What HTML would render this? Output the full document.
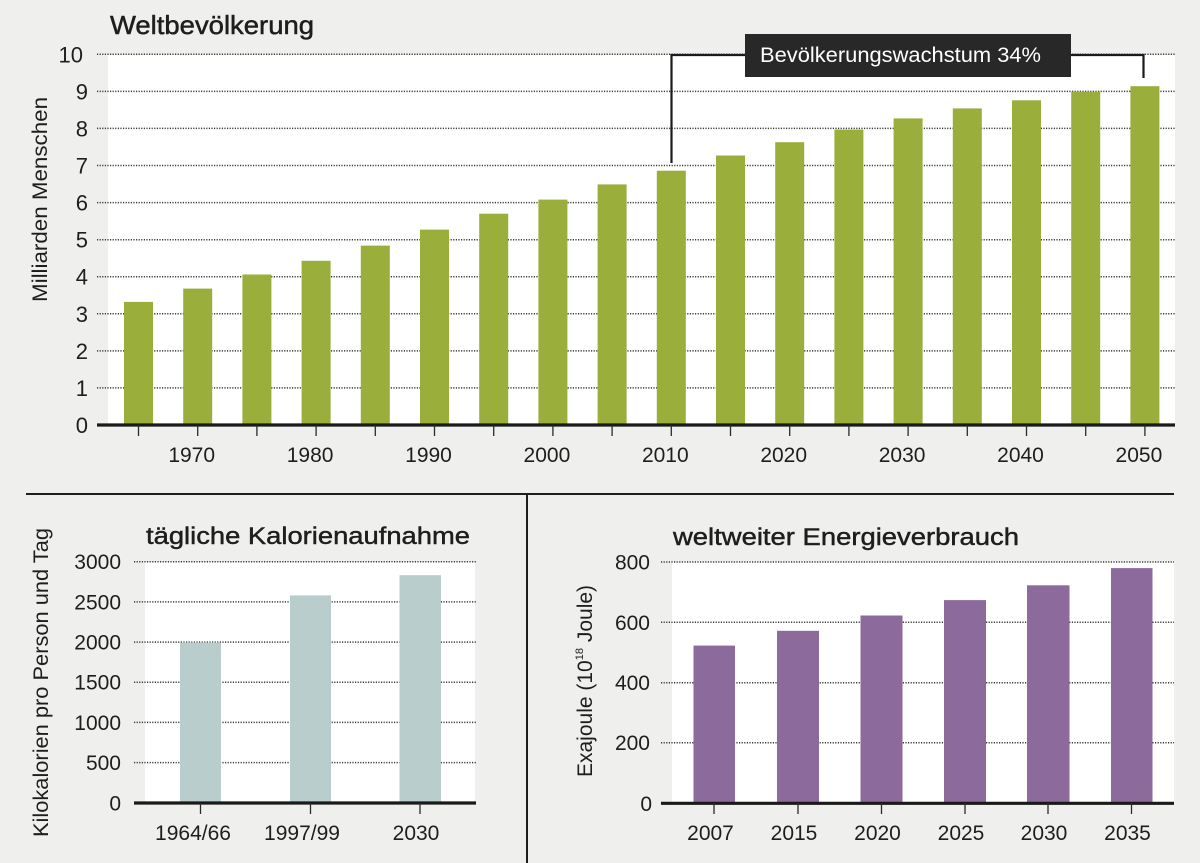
<!DOCTYPE html>
<html><head><meta charset="utf-8"><style>
html,body{margin:0;padding:0;background:#efefed;}
svg{display:block;}
text{font-family:"Liberation Sans",sans-serif;fill:#1e1e1e;}
</style></head><body>
<svg width="1200" height="863" viewBox="0 0 1200 863" xmlns="http://www.w3.org/2000/svg">
<rect x="0" y="0" width="1200" height="863" fill="#efefed"/>

<!-- ============ TOP CHART ============ -->
<rect x="108" y="55" width="1067" height="370" fill="#ffffff"/>
<g stroke="#3a3a3a" stroke-width="1.5" stroke-dasharray="1.2 1.4">
<line x1="97" y1="54.3" x2="1175" y2="54.3"/>
<line x1="97" y1="91.4" x2="1175" y2="91.4"/>
<line x1="97" y1="128.4" x2="1175" y2="128.4"/>
<line x1="97" y1="165.5" x2="1175" y2="165.5"/>
<line x1="97" y1="202.6" x2="1175" y2="202.6"/>
<line x1="97" y1="239.7" x2="1175" y2="239.7"/>
<line x1="97" y1="276.7" x2="1175" y2="276.7"/>
<line x1="97" y1="313.8" x2="1175" y2="313.8"/>
<line x1="97" y1="350.9" x2="1175" y2="350.9"/>
<line x1="97" y1="387.9" x2="1175" y2="387.9"/>
</g>
<g fill="#9aae3b">
<rect x="124" y="301.9" width="29" height="123.1"/>
<rect x="183.2" y="288.6" width="29" height="136.4"/>
<rect x="242.4" y="274.5" width="29" height="150.5"/>
<rect x="301.6" y="260.8" width="29" height="164.2"/>
<rect x="360.8" y="245.6" width="29" height="179.4"/>
<rect x="420" y="229.6" width="29" height="195.4"/>
<rect x="479.2" y="213.7" width="29" height="211.3"/>
<rect x="538.4" y="199.6" width="29" height="225.4"/>
<rect x="597.6" y="184.4" width="29" height="240.6"/>
<rect x="656.8" y="170.7" width="29" height="254.3"/>
<rect x="716" y="155.5" width="29" height="269.5"/>
<rect x="775.2" y="142.2" width="29" height="282.8"/>
<rect x="834.4" y="129.6" width="29" height="295.4"/>
<rect x="893.6" y="118.4" width="29" height="306.6"/>
<rect x="952.8" y="108.4" width="29" height="316.6"/>
<rect x="1012" y="100.3" width="29" height="324.7"/>
<rect x="1071.2" y="91.7" width="29" height="333.3"/>
<rect x="1130.4" y="86.2" width="29" height="338.8"/>
</g>
<line x1="97" y1="425" x2="1175" y2="425" stroke="#1a1a1a" stroke-width="3.2"/>
<g stroke="#2a2a2a" stroke-width="1.3">
<line x1="138.5" y1="425" x2="138.5" y2="436"/>
<line x1="197.7" y1="425" x2="197.7" y2="436"/>
<line x1="256.9" y1="425" x2="256.9" y2="436"/>
<line x1="316.1" y1="425" x2="316.1" y2="436"/>
<line x1="375.3" y1="425" x2="375.3" y2="436"/>
<line x1="434.5" y1="425" x2="434.5" y2="436"/>
<line x1="493.7" y1="425" x2="493.7" y2="436"/>
<line x1="552.9" y1="425" x2="552.9" y2="436"/>
<line x1="612.1" y1="425" x2="612.1" y2="436"/>
<line x1="671.3" y1="425" x2="671.3" y2="436"/>
<line x1="730.5" y1="425" x2="730.5" y2="436"/>
<line x1="789.7" y1="425" x2="789.7" y2="436"/>
<line x1="848.9" y1="425" x2="848.9" y2="436"/>
<line x1="908.1" y1="425" x2="908.1" y2="436"/>
<line x1="967.3" y1="425" x2="967.3" y2="436"/>
<line x1="1026.5" y1="425" x2="1026.5" y2="436"/>
<line x1="1085.7" y1="425" x2="1085.7" y2="436"/>
<line x1="1144.9" y1="425" x2="1144.9" y2="436"/>
</g>
<!-- y labels -->
<g font-size="22" text-anchor="end">
<text x="83" y="62.3">10</text>
<text x="88" y="99.4">9</text>
<text x="88" y="136.4">8</text>
<text x="88" y="173.5">7</text>
<text x="88" y="210.6">6</text>
<text x="88" y="247.7">5</text>
<text x="88" y="284.7">4</text>
<text x="88" y="321.8">3</text>
<text x="88" y="358.9">2</text>
<text x="88" y="395.9">1</text>
<text x="88" y="433">0</text>
</g>
<!-- x labels -->
<g font-size="21" text-anchor="middle">
<text x="191.7" y="462">1970</text>
<text x="310.1" y="462">1980</text>
<text x="428.5" y="462">1990</text>
<text x="546.9" y="462">2000</text>
<text x="665.3" y="462">2010</text>
<text x="783.7" y="462">2020</text>
<text x="902.1" y="462">2030</text>
<text x="1020.5" y="462">2040</text>
<text x="1138.9" y="462">2050</text>
</g>
<text x="110" y="34" font-size="26" stroke="#1e1e1e" stroke-width="0.5" textLength="204" lengthAdjust="spacingAndGlyphs">Weltbevölkerung</text>
<text transform="translate(47,302) rotate(-90)" font-size="21" textLength="205" lengthAdjust="spacingAndGlyphs">Milliarden Menschen</text>

<!-- annotation -->
<path d="M671.5,163 V55 H745 M1071,55 H1143.5 V78" fill="none" stroke="#1a1a1a" stroke-width="2.2"/>
<rect x="745" y="34" width="326" height="43" fill="#282828"/>
<text x="760" y="62" font-size="21" style="fill:#ffffff" textLength="281" lengthAdjust="spacingAndGlyphs">Bevölkerungswachstum 34%</text>

<!-- separators -->
<line x1="26" y1="494" x2="1174" y2="494" stroke="#1e1e1e" stroke-width="2"/>
<line x1="527" y1="494" x2="527" y2="863" stroke="#1e1e1e" stroke-width="2"/>

<!-- ============ CALORIE CHART ============ -->
<rect x="145" y="562" width="330" height="241" fill="#ffffff"/>
<g stroke="#3a3a3a" stroke-width="1.5" stroke-dasharray="1.2 1.4">
<line x1="134" y1="561.7" x2="476" y2="561.7"/>
<line x1="134" y1="601.9" x2="476" y2="601.9"/>
<line x1="134" y1="642.1" x2="476" y2="642.1"/>
<line x1="134" y1="682.2" x2="476" y2="682.2"/>
<line x1="134" y1="722.4" x2="476" y2="722.4"/>
<line x1="134" y1="762.6" x2="476" y2="762.6"/>
</g>
<g fill="#b9cdcc">
<rect x="180" y="642.7" width="41" height="160.3"/>
<rect x="290" y="595.4" width="41" height="207.6"/>
<rect x="399.5" y="575.2" width="41.5" height="227.8"/>
</g>
<line x1="134" y1="803" x2="476" y2="803" stroke="#1a1a1a" stroke-width="3.2"/>
<g stroke="#2a2a2a" stroke-width="1.3">
<line x1="200.5" y1="803" x2="200.5" y2="814"/>
<line x1="310.5" y1="803" x2="310.5" y2="814"/>
<line x1="420" y1="803" x2="420" y2="814"/>
</g>
<g font-size="21" text-anchor="end">
<text x="121" y="569.2">3000</text>
<text x="121" y="609.4">2500</text>
<text x="121" y="649.6">2000</text>
<text x="121" y="689.7">1500</text>
<text x="121" y="729.9">1000</text>
<text x="121" y="770.1">500</text>
<text x="121" y="810.3">0</text>
</g>
<g font-size="21" text-anchor="middle">
<text x="193" y="840">1964/66</text>
<text x="302" y="840">1997/99</text>
<text x="416" y="840">2030</text>
</g>
<text x="146" y="544" font-size="24" stroke="#1e1e1e" stroke-width="0.45" textLength="324" lengthAdjust="spacingAndGlyphs">tägliche Kalorienaufnahme</text>
<text transform="translate(48,837) rotate(-90)" font-size="21" textLength="309" lengthAdjust="spacingAndGlyphs">Kilokalorien pro Person und Tag</text>

<!-- ============ ENERGY CHART ============ -->
<rect x="672" y="562" width="502" height="241" fill="#ffffff"/>
<g stroke="#3a3a3a" stroke-width="1.5" stroke-dasharray="1.2 1.4">
<line x1="661" y1="562" x2="1174" y2="562"/>
<line x1="661" y1="622.3" x2="1174" y2="622.3"/>
<line x1="661" y1="682.7" x2="1174" y2="682.7"/>
<line x1="661" y1="742.7" x2="1174" y2="742.7"/>
</g>
<g fill="#8d6a9c">
<rect x="693.5" y="645.6" width="41.5" height="157.7"/>
<rect x="777" y="630.8" width="42" height="172.5"/>
<rect x="860.5" y="615.5" width="42" height="187.8"/>
<rect x="944" y="600.1" width="42" height="203.2"/>
<rect x="1027" y="585.3" width="42.5" height="218"/>
<rect x="1111" y="568.1" width="41.5" height="235.2"/>
</g>
<line x1="661" y1="803.3" x2="1174" y2="803.3" stroke="#1a1a1a" stroke-width="3.2"/>
<g stroke="#2a2a2a" stroke-width="1.3">
<line x1="714" y1="803" x2="714" y2="814"/>
<line x1="798" y1="803" x2="798" y2="814"/>
<line x1="881.5" y1="803" x2="881.5" y2="814"/>
<line x1="965" y1="803" x2="965" y2="814"/>
<line x1="1048" y1="803" x2="1048" y2="814"/>
<line x1="1131.5" y1="803" x2="1131.5" y2="814"/>
</g>
<g font-size="21" text-anchor="end">
<text x="650" y="569.5">800</text>
<text x="650" y="629.8">600</text>
<text x="650" y="690.2">400</text>
<text x="650" y="750.2">200</text>
<text x="652" y="810.8">0</text>
</g>
<g font-size="21" text-anchor="middle">
<text x="710.5" y="840">2007</text>
<text x="794" y="840">2015</text>
<text x="877.5" y="840">2020</text>
<text x="961" y="840">2025</text>
<text x="1044" y="840">2030</text>
<text x="1127.5" y="840">2035</text>
</g>
<text x="673" y="545" font-size="24" stroke="#1e1e1e" stroke-width="0.45" textLength="346" lengthAdjust="spacingAndGlyphs">weltweiter Energieverbrauch</text>
<text transform="translate(592,777) rotate(-90)" font-size="21">Exajoule (10<tspan font-size="11" dy="-9">18</tspan><tspan dy="9"> Joule)</tspan></text>
</svg>
</body></html>
